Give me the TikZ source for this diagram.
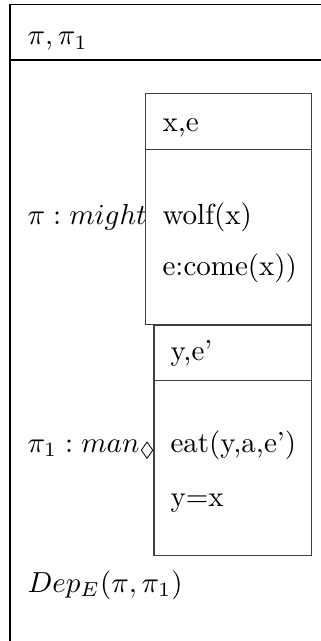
\documentclass[tikz,border=0pt]{standalone}
\usepackage{amsmath,amssymb}
\usetikzlibrary{positioning}
\tikzset{
  outerline/.style={draw,line width=0.45pt},
  innerbox/.style={draw,line width=0.4pt,draw=black!75},
  ref/.style={anchor=base west,inner sep=0pt},
  cnd/.style={anchor=base west,inner sep=0pt},
}

\begin{document}
\begin{tikzpicture}[x=0.345pt,y=-0.345pt]
    \clip (0,0) rectangle (321,641);
    % outer box, runs off the page at the right and bottom
    \draw[outerline] (10,700) -- (10,4.5) -- (340,4.5);
    \draw[outerline] (10,60) -- (340,60);
    \node[ref] (refs) at (27,45) {$\pi,\pi_1$};
    % box of might
    \draw[innerbox] (145.5,93.5) rectangle (311.5,324.5);
    \draw[innerbox] (145.5,149.5) -- (311.5,149.5);
    \node[ref] (refsA) at (162,131) {x,e};
    \node[cnd] (labA) at (27,224) {$\pi : might$};
    \foreach \n/\y/\t in {wolf/224/{wolf(x)},come/275/{e:come(x))}}
       \node[cnd] (\n) at (162,\y) {\t};
    % box of man
    \draw[innerbox] (154,325) rectangle (311.5,555.5);
    \draw[innerbox] (154,380.5) -- (311.5,380.5);
    \node[ref] (refsB) at (170,360) {y,e'};
    \node[cnd] (labB) at (27,452) {$\pi_1 : man_{\Diamond}$};
    \foreach \n/\y/\t in {eat/452/{eat(y,a,e')},eq/506/{y=x}}
       \node[cnd] (\n) at (170,\y) {\t};
    % dependency
    \node[cnd] (dep) at (27,592) {$Dep_E(\pi,\pi_1)$};
\end{tikzpicture}
\end{document}
